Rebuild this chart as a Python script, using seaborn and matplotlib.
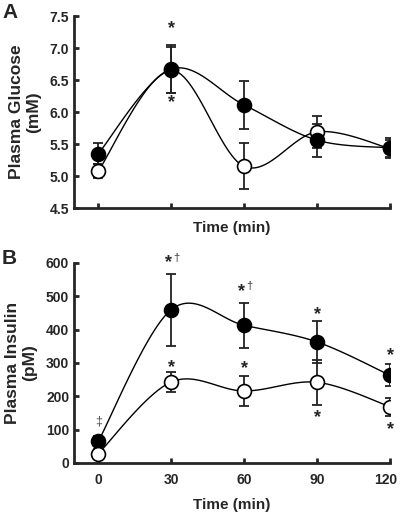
import numpy as np
import pandas as pd
import seaborn as sns
from matplotlib import pyplot as plt
from matplotlib.transforms import ScaledTranslation

time = [0, 30, 60, 90, 120]

glucose_filled = [5.35, 6.67, 6.11, 5.56, 5.44]
glucose_filled_err = [0.17, 0.38, 0.38, 0.26, 0.16]
glucose_open = [5.08, 6.65, 5.15, 5.69, 5.43]
glucose_open_err = [0.11, 0.36, 0.36, 0.25, 0.13]

insulin_filled = [65, 460, 413, 363, 263]
insulin_filled_err = [15, 108, 67, 62, 33]
insulin_open = [28, 243, 216, 242, 169]
insulin_open_err = [14, 30, 45, 68, 27]


def smooth(x, y, n=30):
    # excel style smoothed line (bezier through the points)
    x = np.asarray(x, float)
    y = np.asarray(y, float)
    px = np.concatenate([[x[0]], x, [x[-1]]])
    py = np.concatenate([[y[0]], y, [y[-1]]])
    xs, ys = [], []
    t = np.linspace(0, 1, n)
    for i in range(1, len(px) - 2):
        p0 = np.array([px[i], py[i]])
        p3 = np.array([px[i + 1], py[i + 1]])
        p1 = p0 + (np.array([px[i + 1], py[i + 1]]) - np.array([px[i - 1], py[i - 1]])) / 6
        p2 = p3 - (np.array([px[i + 2], py[i + 2]]) - np.array([px[i], py[i]])) / 6
        b = ((1 - t) ** 3)[:, None] * p0 + (3 * (1 - t) ** 2 * t)[:, None] * p1 \
            + (3 * (1 - t) * t ** 2)[:, None] * p2 + (t ** 3)[:, None] * p3
        xs.extend(b[:, 0])
        ys.extend(b[:, 1])
    return pd.DataFrame({"x": xs, "y": ys})


def draw_panel(ax, filled, filled_err, opn, opn_err, filled_top):
    for vals, err in [(filled, filled_err), (opn, opn_err)]:
        curve = smooth(time, vals)
        sns.lineplot(data=curve, x="x", y="y", sort=False, estimator=None,
                     color="black", lw=1.0, ax=ax, zorder=2)
        ax.errorbar(time, vals, yerr=err, fmt="none", ecolor="#222222",
                    elinewidth=1.3, capsize=3.5, capthick=1.3, zorder=3)
    zf, zo = (6, 5) if filled_top else (5, 6)
    df_f = pd.DataFrame({"t": time, "v": filled})
    df_o = pd.DataFrame({"t": time, "v": opn})
    sns.scatterplot(data=df_f, x="t", y="v", color="black", edgecolor="black",
                    s=100, linewidth=1.2, ax=ax, zorder=zf)
    sns.scatterplot(data=df_o, x="t", y="v", color="white", edgecolor="black",
                    s=100, linewidth=1.2, ax=ax, zorder=zo)


def style_axes(ax):
    for side in ["top", "right"]:
        ax.spines[side].set_visible(False)
    for side in ["left", "bottom"]:
        ax.spines[side].set_linewidth(2.0)
    ax.tick_params(direction="in", width=2.0, length=3.5, labelsize=10)
    ax.set_xlim(-10, 120)
    ax.set_xticks(time)


def star(ax, x, y, dagger=False):
    ax.text(x - (1 if dagger else 0), y, "*", ha="center", va="center",
            fontsize=13, fontweight="bold")
    if dagger:
        ax.text(x + 2.3, y, "\u2020", ha="center", va="bottom",
                fontsize=8, fontweight="normal", color="#333333")


sns.set_style("ticks")
plt.rcParams['font.family'] = ['Liberation Sans', 'DejaVu Sans']
plt.rcParams['font.weight'] = 'bold'

fig = plt.figure(figsize=(4, 5.13), dpi=100)
ax1 = fig.add_axes([0.185, 0.5945, 0.79, 0.3743])
ax2 = fig.add_axes([0.185, 0.0975, 0.79, 0.3899])

draw_panel(ax1, glucose_filled, glucose_filled_err, glucose_open, glucose_open_err, True)
style_axes(ax1)
ax1.set_ylim(4.5, 7.5)
ax1.set_yticks(np.arange(4.5, 7.6, 0.5))
ax1.set_yticklabels([f"{v:.1f}" for v in np.arange(4.5, 7.6, 0.5)], fontweight="bold")
ax1.set_xticklabels([])
ax1.set_xlabel("Time (min)", fontsize=11, fontweight="bold", labelpad=6)
ax1.set_ylabel("Plasma Glucose\n(mM)", fontsize=12.5, fontweight="bold", labelpad=6)
star(ax1, 30, 7.3)
star(ax1, 30, 6.14)

draw_panel(ax2, insulin_filled, insulin_filled_err, insulin_open, insulin_open_err, False)
style_axes(ax2)
ax2.set_ylim(0, 600)
ax2.set_yticks(range(0, 601, 100))
ax2.set_yticklabels([str(v) for v in range(0, 601, 100)], fontweight="bold")
ax2.set_xticklabels([str(t) for t in time], fontweight="bold")
ax2.tick_params(axis="x", pad=7)
last = ax2.get_xticklabels()[-1]
last.set_transform(last.get_transform() + ScaledTranslation(-4 / 100, 0, fig.dpi_scale_trans))
ax2.set_xlabel("Time (min)", fontsize=11, fontweight="bold", labelpad=8)
ax2.set_ylabel("Plasma Insulin\n(pM)", fontsize=12.5, fontweight="bold", labelpad=6)

star(ax2, 30, 600, dagger=True)
star(ax2, 60, 515, dagger=True)
for x, y in [(90, 445), (120, 322), (30, 287), (60, 282), (90, 135), (120, 100)]:
    star(ax2, x, y)
ax2.text(0, 125, "\u2021", ha="center", va="center", fontsize=9,
         fontweight="normal", color="#555555")

fig.text(0.005, 0.975, "A", fontsize=15, fontweight="bold", va="center")
fig.text(0.005, 0.497, "B", fontsize=15, fontweight="bold", va="center")

fig.savefig("out.png", dpi=100)
